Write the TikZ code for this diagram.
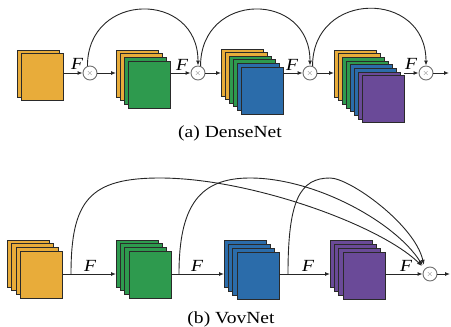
\documentclass[tikz,border=0pt]{standalone}
\usepackage{fontspec}
\setmainfont{Liberation Serif}
\newfontfamily\capfont[FakeStretch=1.15]{Liberation Serif}
\usetikzlibrary{arrows.meta}
\definecolor{cy}{HTML}{E8AC3A}
\definecolor{cg}{HTML}{2E9A4E}
\definecolor{cb}{HTML}{2B6CAA}
\definecolor{cp}{HTML}{6A4A98}
\definecolor{edgecol}{HTML}{2A2A2A}
\definecolor{ringcol}{HTML}{707070}
\newcommand\stackof[6]{%
  \foreach \c [count=\i from 0] in {#6} {\node[sheet,fill=\c] (#1\i) at ({#2+\i*#4},{#3+\i*#5}) {};}}
\begin{document}
\begin{tikzpicture}[x=1pt,y=-1pt,
  sheet/.style={draw=edgecol,line width=0.9pt,minimum width=42pt,minimum height=47pt,inner sep=0pt,outer sep=0pt,anchor=north west},
  cnode/.style={circle,draw=ringcol,fill=white,line width=0.9pt,minimum size=14pt,inner sep=0pt,text=ringcol,font=\fontsize{8}{8}\selectfont},
  flow/.style={line width=0.9pt,draw=black!85,-{Latex[length=5pt,width=4pt]}},
  flabel/.style={font=\capfont\itshape\fontsize{17}{17}\selectfont,inner sep=0pt},
  caption/.style={font=\capfont\fontsize{17}{17}\selectfont,inner sep=0pt,anchor=base}]
\useasboundingbox (0,0) rectangle (451,327);
% ---------------- DenseNet ----------------
\stackof{da}{17}{50}{4.5}{3.7}{cy,cy}
\stackof{db}{116}{50}{4}{3.7}{cy,cy,cg,cg}
\stackof{dc}{221}{49}{4}{3.6}{cy,cy,cg,cg,cb,cb}
\stackof{dd}{334}{50}{4}{3.7}{cy,cy,cg,cg,cb,cb,cp,cp}
\node[cnode] (c1) at (90,73) {$\times$};
\node[cnode] (c2) at (198,73) {$\times$};
\node[cnode] (c3) at (310,73) {$\times$};
\node[cnode] (c4) at (426,73) {$\times$};
\coordinate (dout) at (449,73);
\draw[flow] (da1.east |- c1) -- (c1);
\draw[flow] (c1) -- (db0.west |- c1);
\draw[flow] (db3.east |- c2) -- (c2);
\draw[flow] (c2) -- (dc0.west |- c2);
\draw[flow] (dc5.east |- c3) -- (c3);
\draw[flow] (c3) -- (dd0.west |- c3);
\draw[flow] (dd7.east |- c4) -- (c4);
\draw[flow] (c4) -- (dout);
\draw[flow] (c1.110) .. controls +(0,-75) and +(0,-75) .. (c2.north);
\draw[flow] (c2.70) .. controls +(0,-75) and +(0,-75) .. (c3.north);
\draw[flow] (c3.70) .. controls +(0,-76) and +(0,-76) .. (c4.north);
\node[flabel] (fa1) at (77,64) {F};
\node[flabel] (fa2) at (182,65) {F};
\node[flabel] (fa3) at (292,65) {F};
\node[flabel] (fa4) at (411,64) {F};
\node[caption] (capa) at (230,137) {(a) DenseNet};
% ---------------- VovNet ----------------
\stackof{va}{7}{240}{4.6}{3.7}{cy,cy,cy,cy}
\stackof{vb}{116}{240}{4.4}{3.7}{cg,cg,cg,cg}
\stackof{vc}{224}{240}{4.4}{4}{cb,cb,cb,cb}
\stackof{vd}{330}{240}{4.4}{4}{cp,cp,cp,cp}
\node[cnode] (c5) at (430,274) {$\times$};
\coordinate (ja) at (71,274);
\coordinate (jb) at (179,274);
\coordinate (jc) at (288,274);
\coordinate (vout) at (450,274);
\draw[flow] (va3.east |- c5) -- (vb0.west |- c5);
\draw[flow] (vb3.east |- c5) -- (vc0.west |- c5);
\draw[flow] (vc3.east |- c5) -- (vd0.west |- c5);
\draw[flow] (vd3.east |- c5) -- (c5);
\draw[flow] (c5) -- (vout);
\draw[flow,shorten >=4pt] (ja) .. controls (71,200) and (90,178) .. (160,178) .. controls (250,178) and (380,225) .. (c5.north west);
\draw[flow,shorten >=4pt] (jb) .. controls (179,205) and (200,178) .. (250,178) .. controls (315,178) and (395,222) .. (c5.north west);
\draw[flow,shorten >=4pt] (jc) .. controls (288,200) and (300,178) .. (330,178) .. controls (350,178) and (415,225) .. (c5.north west);
\node[flabel] (fb1) at (90,266) {F};
\node[flabel] (fb2) at (197,266) {F};
\node[flabel] (fb3) at (308,266) {F};
\node[flabel] (fb4) at (406,266) {F};
\node[caption] (capb) at (231,323.5) {(b) VovNet};
\end{tikzpicture}
\end{document}
